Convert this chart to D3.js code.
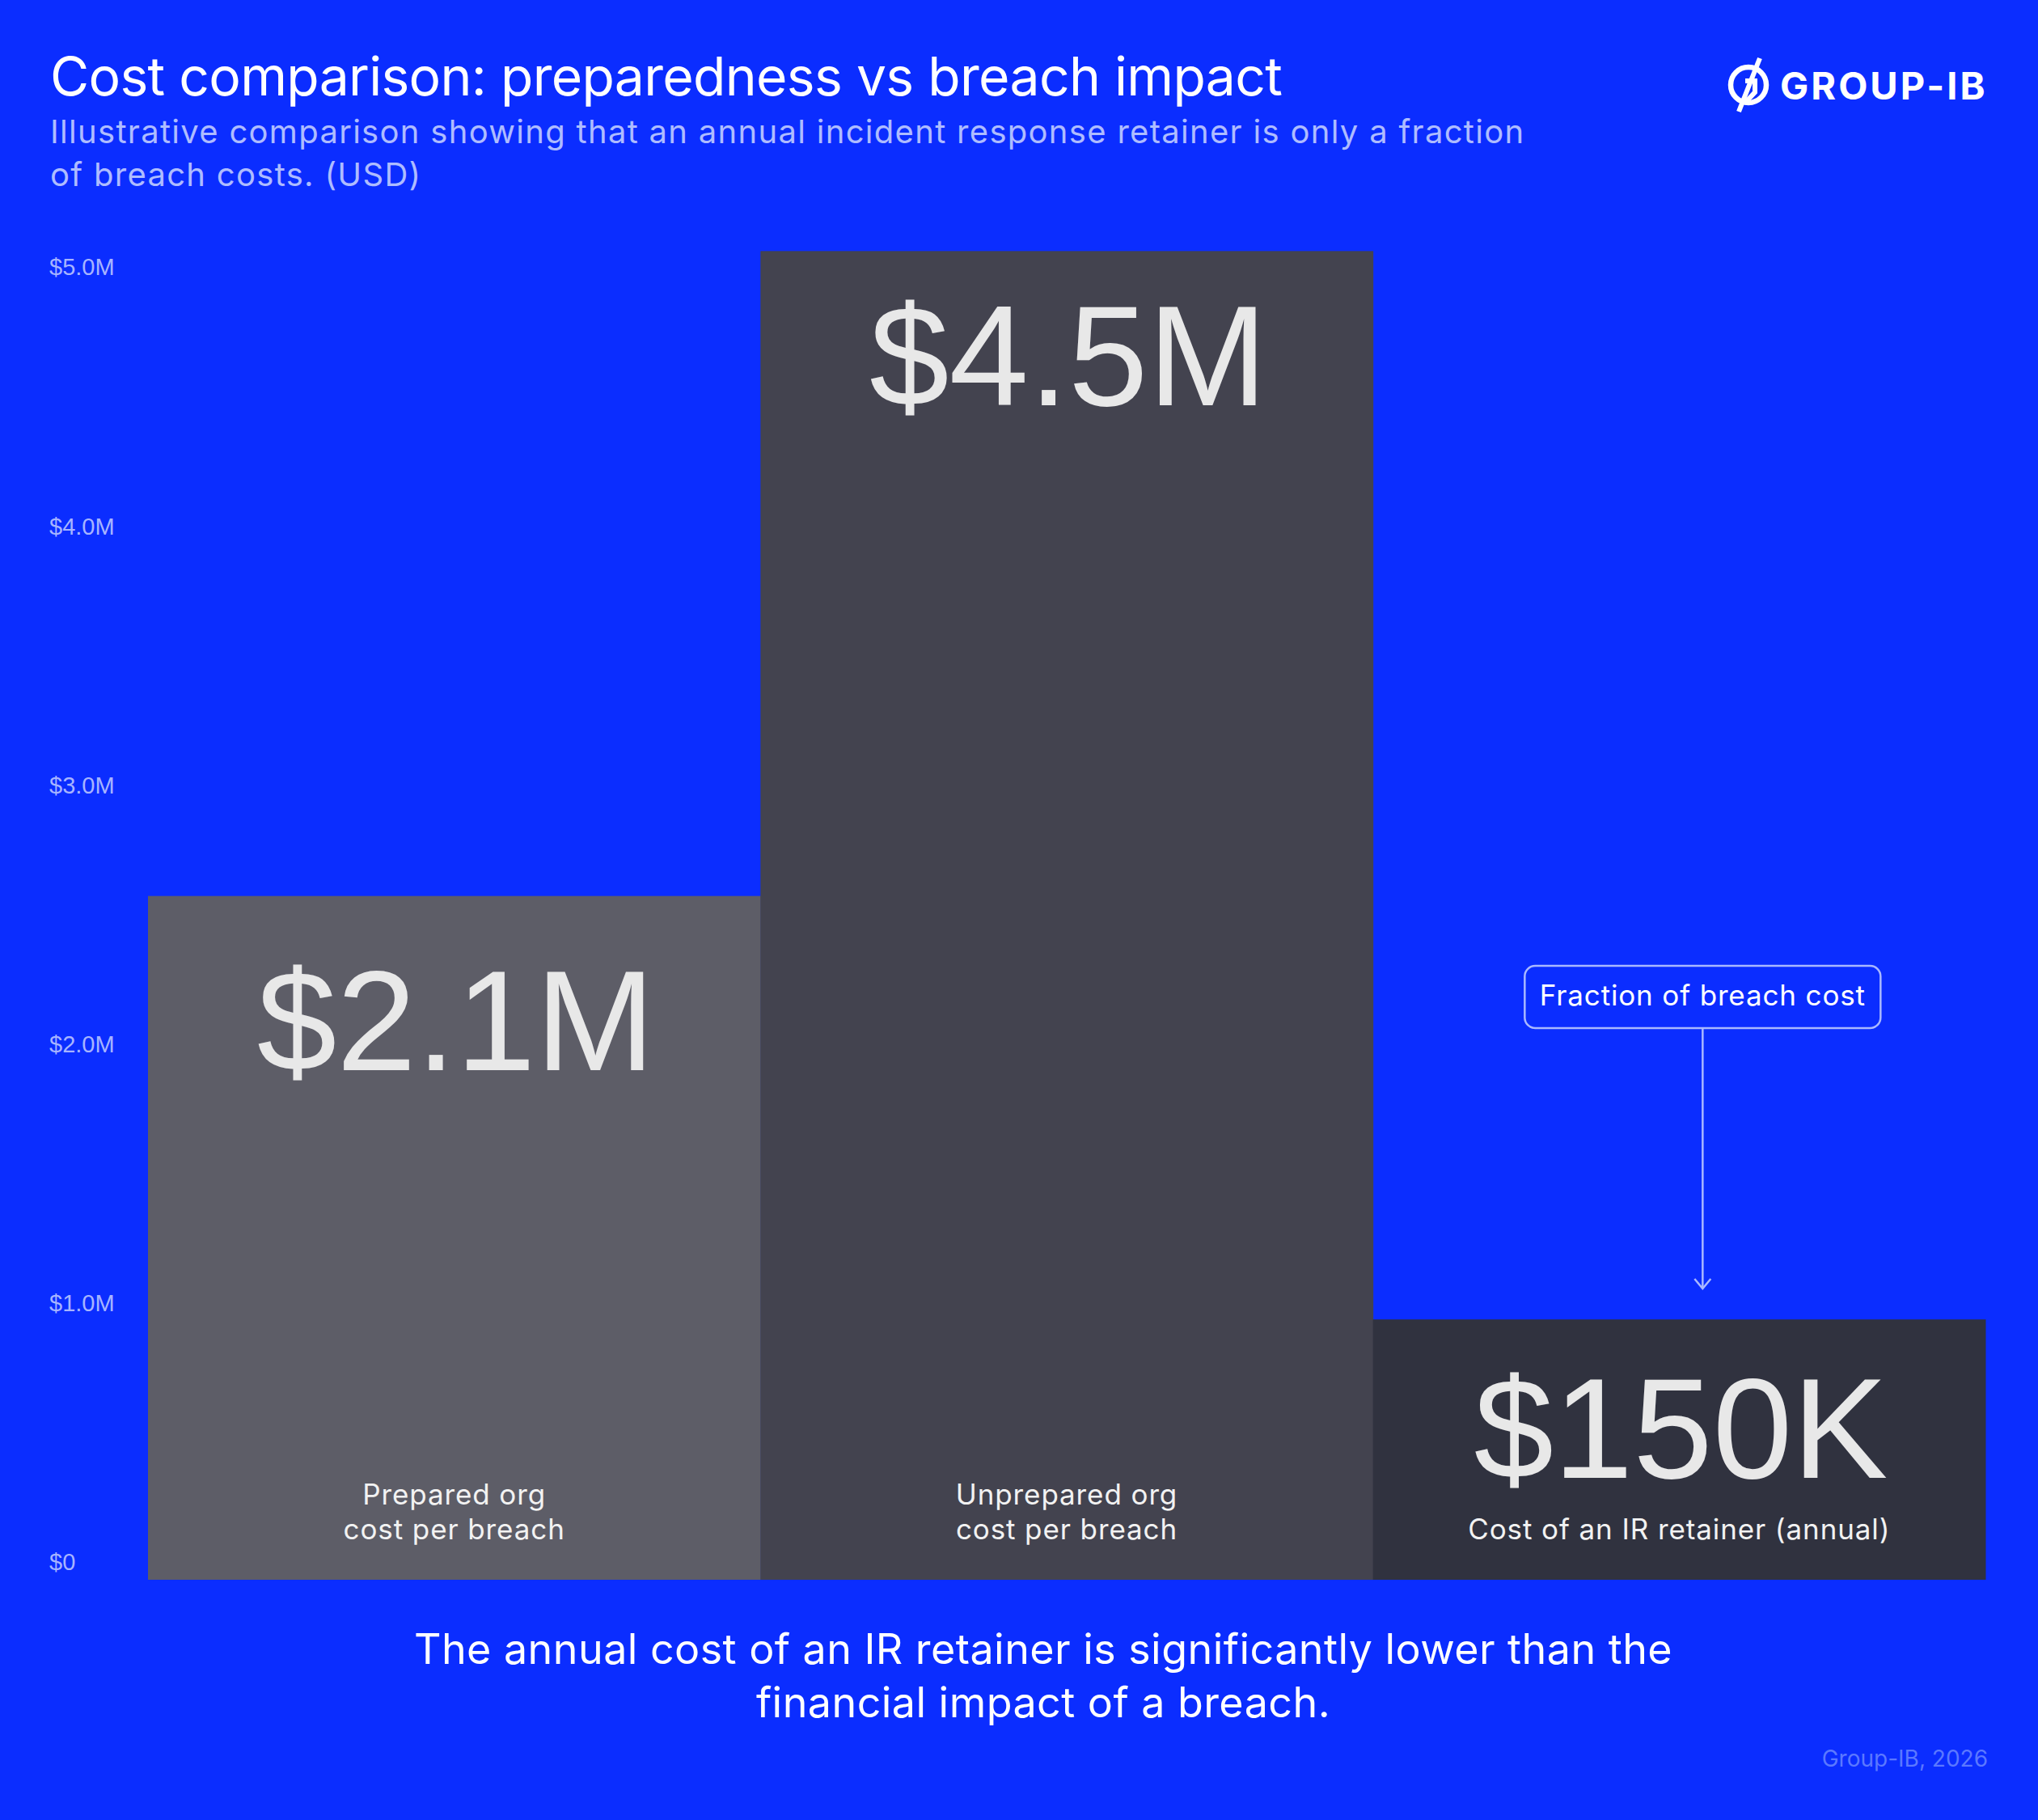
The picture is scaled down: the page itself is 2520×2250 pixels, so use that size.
<!DOCTYPE html>
<html><head><meta charset="utf-8">
<script src="https://cdn.jsdelivr.net/npm/d3@7"></script>
<style>html,body{margin:0;padding:0;background:#0b2dff;} svg{display:block}</style>
</head><body>
<svg id="chart" width="2520" height="2250"></svg>
<script>
// ---------- data ----------
const categories = ["Prepared org", "Unprepared org", "IR retainer"];
const categoryLines = [["Prepared org", "cost per breach"], ["Unprepared org", "cost per breach"], ["Cost of an IR retainer (annual)"]];
const values = [2100000, 4500000, 150000];               // actual values (USD)
const valueLabels = ["$2.1M", "$4.5M", "$150K"];
const barHeights = [2640000, 5130000, 1005000];           // illustrative bar heights as drawn (USD on axis)
const tickValues = [0, 1000000, 2000000, 3000000, 4000000, 5000000];
const tickLabels = ["$0", "$1.0M", "$2.0M", "$3.0M", "$4.0M", "$5.0M"];
const barColors = ["#5d5d67", "#43434f", "#30323f"];
const titleText = "Cost comparison: preparedness vs breach impact";
const subtitleLines = ["Illustrative comparison showing that an annual incident response retainer is only a fraction", "of breach costs. (USD)"];
const footerLines = ["The annual cost of an IR retainer is significantly lower than the", "financial impact of a breach."];
const annotationText = "Fraction of breach cost";
const sourceText = "Group-IB, 2026";

// ---------- layout ----------
const W = 2520, H = 2250;
const FONT = "Inter, 'Noto Sans', sans-serif";
const NUMFONT = "'Liberation Sans', Arial, sans-serif";
const plot = {left: 183, right: 2455, top: 352, bottom: 1953};

const svg = d3.select("#chart");
svg.append("rect").attr("width", W).attr("height", H).attr("fill", "#0b2dff");

const x = d3.scaleBand().domain(categories).range([plot.left, plot.right]).paddingInner(0).paddingOuter(0);
const y = d3.scaleLinear().domain([0, 5000000]).range([plot.bottom, plot.top]);

// title & subtitle
svg.append("text").attr("x", 62).attr("y", 118).attr("fill", "#ffffff")
  .attr("font-family", FONT).attr("font-size", 66).attr("font-weight", 400).attr("letter-spacing", -0.7)
  .text(titleText);
svg.append("g").selectAll("text").data(subtitleLines).join("text")
  .attr("x", 62).attr("y", (d, i) => 177 + i * 53).attr("fill", "#aebcff")
  .attr("font-family", FONT).attr("font-size", 40).attr("letter-spacing", 1.3)
  .text(d => d);

// logo
const logo = svg.append("g");
logo.append("circle").attr("cx", 2162).attr("cy", 105).attr("r", 22).attr("fill", "none").attr("stroke", "#fff").attr("stroke-width", 6.5);
logo.append("path").attr("d", "M2176,72 L2150,138").attr("stroke", "#fff").attr("stroke-width", 6).attr("fill", "none");
logo.append("path").attr("d", "M2158,100 L2170,100 L2170,114 L2157,128").attr("stroke", "#fff").attr("stroke-width", 6).attr("fill", "none").attr("stroke-linejoin", "miter");
logo.append("text").attr("x", 2201).attr("y", 123).attr("fill", "#fff")
  .attr("font-family", FONT).attr("font-size", 47).attr("font-weight", 700).attr("letter-spacing", 3)
  .text("GROUP-IB");

// y axis
const yAxis = d3.axisLeft(y).tickValues(tickValues).tickFormat((d, i) => tickLabels[i]).tickSize(0);
const gy = svg.append("g").attr("transform", "translate(61,0)").call(yAxis);
gy.select(".domain").remove();
gy.selectAll("text").attr("x", 0).attr("dy", "-0.42em").attr("text-anchor", "start")
  .attr("fill", "#a7b4ff").attr("font-family", NUMFONT).attr("font-size", 29);

// bars
svg.append("g").selectAll("rect").data(categories).join("rect")
  .attr("x", d => x(d)).attr("width", x.bandwidth() + 0.5)
  .attr("y", (d, i) => y(barHeights[i])).attr("height", (d, i) => y(0) - y(barHeights[i]))
  .attr("fill", (d, i) => barColors[i]);

// big value labels
const valueDy = [215, 191, 196];
svg.append("g").selectAll("text").data(categories).join("text")
  .attr("x", d => x(d) + x.bandwidth() / 2 + 2)
  .attr("y", (d, i) => y(barHeights[i]) + valueDy[i])
  .attr("text-anchor", "middle").attr("fill", "#e8e8e8")
  .attr("font-family", NUMFONT).attr("font-size", 177)
  .text((d, i) => valueLabels[i]);

// category labels
const catG = svg.append("g");
categories.forEach((c, i) => {
  const lines = categoryLines[i];
  lines.forEach((ln, j) => {
    catG.append("text")
      .attr("x", x(c) + x.bandwidth() / 2)
      .attr("y", y(0) - 50 - (lines.length - 1 - j) * 43)
      .attr("text-anchor", "middle").attr("fill", "#f2f2f2")
      .attr("font-family", FONT).attr("font-size", 35).attr("letter-spacing", 0.9)
      .text(ln);
  });
});

// annotation
const ax = x(categories[2]) + x.bandwidth() / 2 + 29;
const ann = svg.append("g");
ann.append("rect").attr("x", ax - 220).attr("y", 1194).attr("width", 440).attr("height", 77).attr("rx", 13)
  .attr("fill", "none").attr("stroke", "#a9b8ff").attr("stroke-width", 2.5);
ann.append("text").attr("x", ax).attr("y", 1243).attr("text-anchor", "middle").attr("fill", "#ffffff")
  .attr("font-family", FONT).attr("font-size", 35).attr("letter-spacing", 0.85).text(annotationText);
ann.append("line").attr("x1", ax).attr("x2", ax).attr("y1", 1271).attr("y2", 1592)
  .attr("stroke", "#a9b8ff").attr("stroke-width", 2.5);
ann.append("path").attr("d", `M${ax - 10},${1581} L${ax},${1593} L${ax + 10},${1581}`)
  .attr("fill", "none").attr("stroke", "#a9b8ff").attr("stroke-width", 2.5);

// footer
svg.append("g").selectAll("text").data(footerLines).join("text")
  .attr("x", 1290).attr("y", (d, i) => 2057 + i * 66).attr("text-anchor", "middle").attr("fill", "#ffffff")
  .attr("font-family", FONT).attr("font-size", 52).attr("letter-spacing", 0.45)
  .text(d => d);

// source
svg.append("text").attr("x", 2458).attr("y", 2184).attr("text-anchor", "end").attr("fill", "#5b78ff")
  .attr("font-family", FONT).attr("font-size", 28).text(sourceText);
</script>
</body></html>
